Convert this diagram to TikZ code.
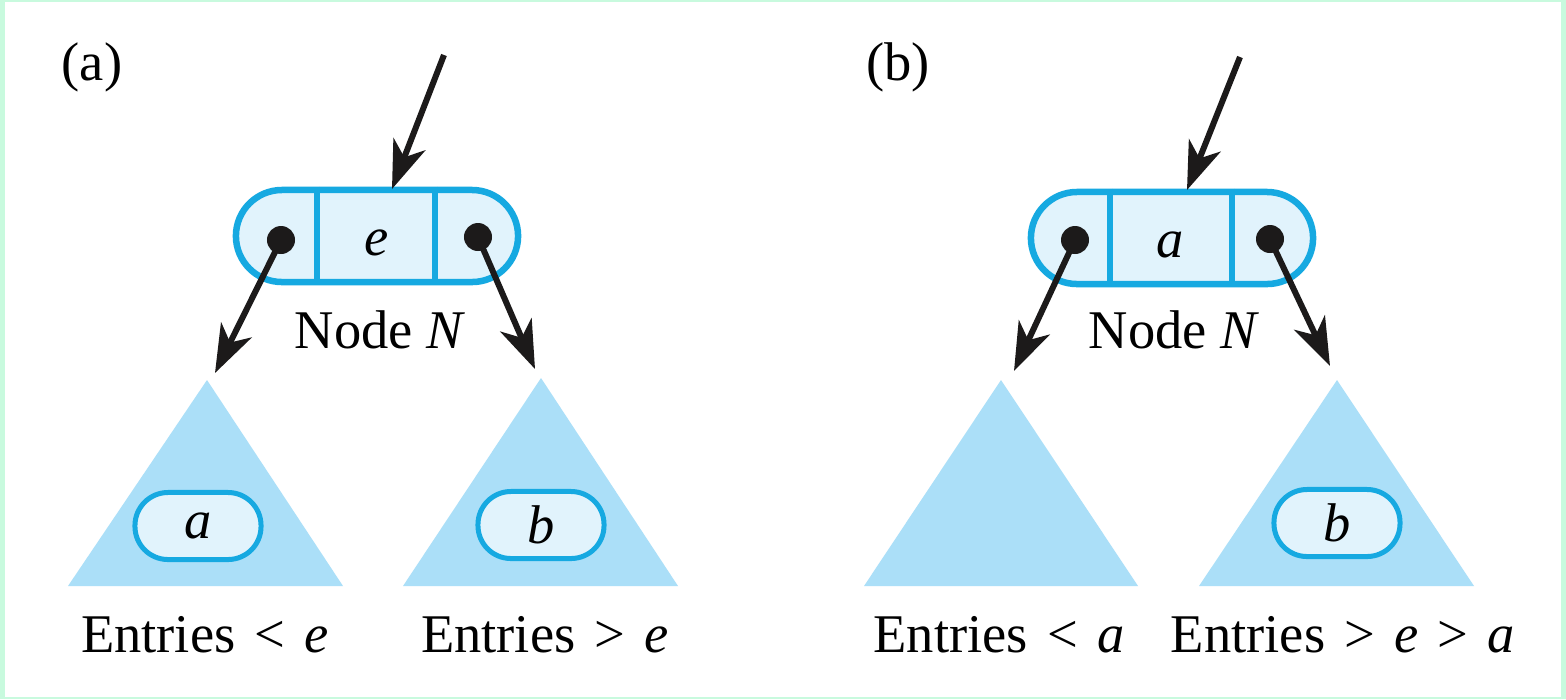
\documentclass[tikz,border=0pt]{standalone}
\usepackage{fontspec}
\setmainfont{Liberation Serif}
\usetikzlibrary{arrows.meta,positioning}

\definecolor{rimcyan}{RGB}{22,169,225}
\definecolor{cellfill}{RGB}{225,243,252}
\definecolor{treefill}{RGB}{171,223,248}
\definecolor{mint}{RGB}{200,250,222}
\definecolor{inkblack}{RGB}{28,26,26}

% relation sign with a little more room
\newcommand{\relsign}[1]{\hspace{1.6pt}#1\hspace{1.6pt}}

\tikzset{
  record/.style={draw=rimcyan, fill=cellfill, line width=0.065cm,
    rectangle, rounded corners=0.46cm,
    minimum width=2.82cm, minimum height=0.92cm, inner sep=0pt},
  divider/.style={draw=rimcyan, line width=0.06cm},
  keybox/.style={draw=rimcyan, fill=cellfill, line width=0.05cm,
    rectangle, rounded corners=0.33cm,
    minimum width=1.26cm, minimum height=0.67cm, inner sep=0pt,
    font=\fontsize{15.5}{18}\selectfont},
  dot/.style={circle, fill=inkblack, inner sep=0pt, minimum size=0.28cm},
  link/.style={draw=inkblack, line width=0.06cm,
    -{Stealth[length=0.48cm, width=0.34cm, inset=0.14cm]}},
  subtree/.style={fill=treefill},
  txt/.style={font=\fontsize{15.5}{18}\selectfont, inner sep=0pt, anchor=base}
}

\begin{document}
\begin{tikzpicture}[x=0.01cm, y=-0.01cm]
  % Frame
  \fill[mint] (0,0) rectangle (1566,699);
  \fill[white] (5,2) rectangle (1561,697);
  \useasboundingbox (0,0) rectangle (1566,699);

  % ---------- (a) ----------
  \node[txt] (tagA) at (92,80) {(a)};

  % Subtrees
  \coordinate (apexAL) at (207,380);
  \coordinate (apexAR) at (541,378);
  \fill[subtree] (apexAL) -- (343,586) -- (68,586) -- cycle;
  \fill[subtree] (apexAR) -- (678,586) -- (403,586) -- cycle;
  \node[keybox] (keyAL) at (198,526) {\textit{a}};
  \node[keybox] (keyAR) at (541,525) {\textit{b}};

  % Node N
  \node[record] (recA) at (377,236) {};
  \draw[divider] ([xshift=-0.6cm]recA.north) -- ([xshift=-0.6cm]recA.south);
  \draw[divider] ([xshift=0.58cm]recA.north) -- ([xshift=0.58cm]recA.south);
  \node[txt] (valA) at (377,255) {\textit{e}};
  \node[dot] (dotAL) at (281,240) {};
  \node[dot] (dotAR) at (478,237) {};
  \node[txt] (nameA) at (380,348) {Node \textit{N}};

  % Links
  \coordinate (inA) at (444,55);
  \coordinate (tipAL) at (215,373);
  \coordinate (tipAR) at (535,369);
  \draw[link] (inA) -- (392,189);
  \draw[link] (dotAL.center) -- (tipAL);
  \draw[link] (dotAR.center) -- (tipAR);

  % Labels
  \node[txt] (entAL) at (205,652) {Entries \relsign{<} \textit{e}};
  \node[txt] (entAR) at (545,652) {Entries \relsign{>} \textit{e}};

  % ---------- (b) ----------
  \node[txt] (tagB) at (898,80) {(b)};

  % Subtrees
  \coordinate (apexBL) at (1001,380);
  \coordinate (apexBR) at (1337,380);
  \fill[subtree] (apexBL) -- (1138,586) -- (864,586) -- cycle;
  \fill[subtree] (apexBR) -- (1474,586) -- (1199,586) -- cycle;
  \node[keybox] (keyBR) at (1337,523) {\textit{b}};

  % Node N
  \node[record] (recB) at (1172,238) {};
  \draw[divider] ([xshift=-0.62cm]recB.north) -- ([xshift=-0.62cm]recB.south);
  \draw[divider] ([xshift=0.6cm]recB.north) -- ([xshift=0.6cm]recB.south);
  \node[txt] (valB) at (1170,257) {\textit{a}};
  \node[dot] (dotBL) at (1075,240) {};
  \node[dot] (dotBR) at (1270,239) {};
  \node[txt] (nameB) at (1174,348) {Node \textit{N}};

  % Links
  \coordinate (inB) at (1240,57);
  \coordinate (tipBL) at (1014,371);
  \coordinate (tipBR) at (1330,366);
  \draw[link] (inB) -- (1187,190);
  \draw[link] (dotBL.center) -- (tipBL);
  \draw[link] (dotBR.center) -- (tipBR);

  % Labels
  \node[txt] (entBL) at (999,652) {Entries \relsign{<} \textit{a}};
  \node[txt] (entBR) at (1343,652) {Entries \relsign{>} \textit{e} \relsign{>} \textit{a}};
\end{tikzpicture}
\end{document}
